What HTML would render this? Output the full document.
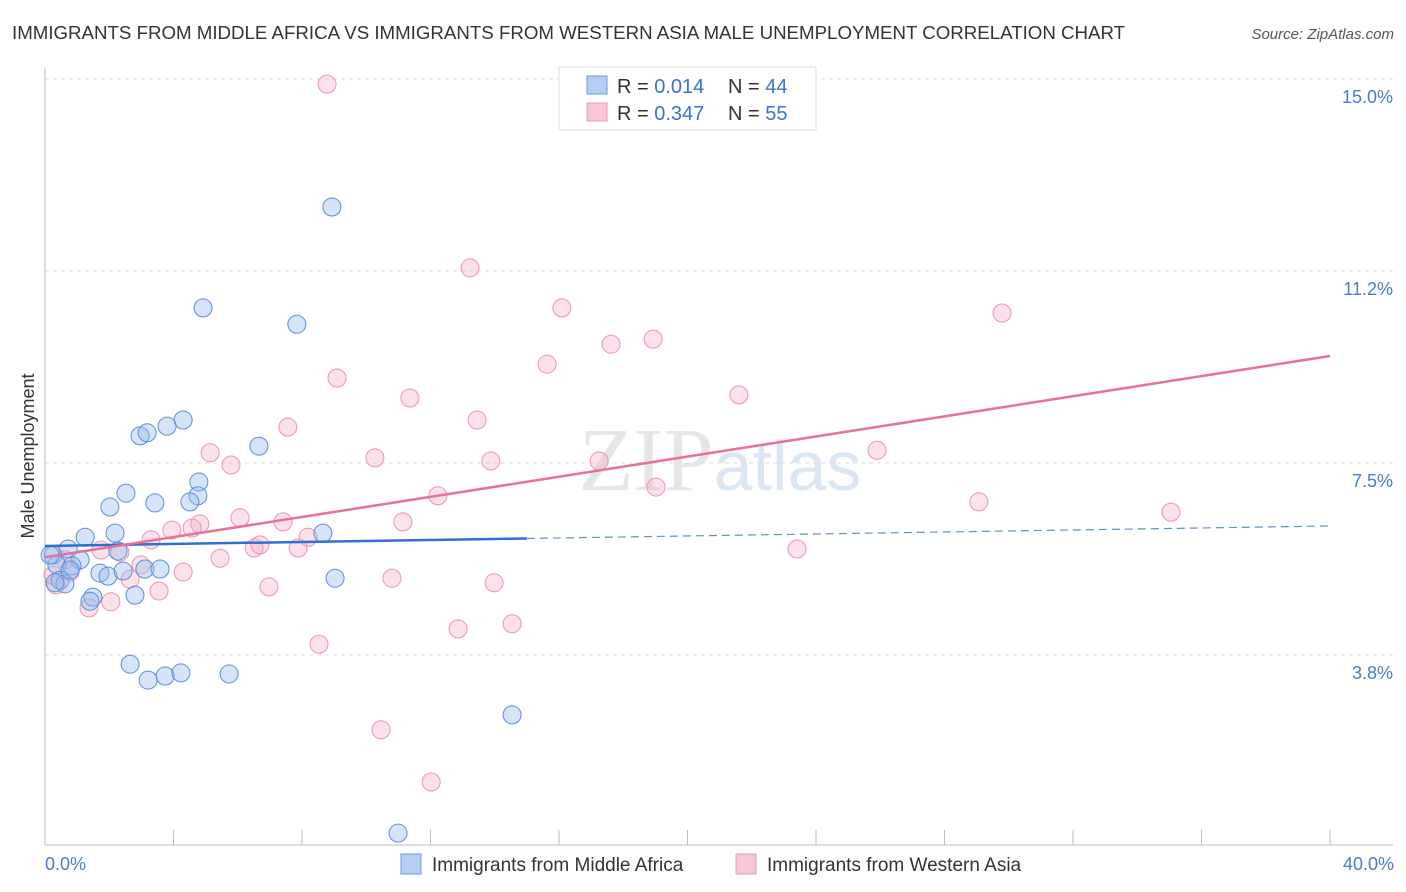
<!DOCTYPE html>
<html><head><meta charset="utf-8"><style>
body{margin:0;background:#fff;font-family:"Liberation Sans",sans-serif;}
svg{display:block}
</style></head><body>
<svg id="chart" width="1406" height="892" xmlns="http://www.w3.org/2000/svg">
<text x="12" y="39" font-size="18.7" fill="#333" font-family="Liberation Sans">IMMIGRANTS FROM MIDDLE AFRICA VS IMMIGRANTS FROM WESTERN ASIA MALE UNEMPLOYMENT CORRELATION CHART</text>
<text x="1394" y="39" font-size="15" fill="#555" text-anchor="end" font-style="italic">Source: ZipAtlas.com</text>
<text x="720" y="490" font-size="90" fill="#e6e6e6" text-anchor="middle" font-family="Liberation Serif">ZIP<tspan fill="#dbe6f4" font-family="Liberation Sans" font-size="70">atlas</tspan></text>
<g id="grid"></g>
<g id="axes"></g>
<g id="pts"></g>
<g id="lines"></g>
<text transform="translate(34,456) rotate(-90)" font-size="18" fill="#333" text-anchor="middle">Male Unemployment</text>
<text x="45" y="870" font-size="18" fill="#4a7bd0">0.0%</text>
<text x="1394" y="870" font-size="18" fill="#4a7bd0" text-anchor="end">40.0%</text>
<g>
<rect x="559" y="67" width="257" height="63" fill="#fff" stroke="#ddd"/>
<rect x="587" y="76" width="20" height="18" fill="#b4cff3" stroke="#6a9ade"/>
<rect x="587" y="103" width="20" height="18" fill="#f9c6d6" stroke="#ea9ab4"/>
<text x="617" y="93" font-size="20" fill="#333">R = <tspan fill="#3a72d0">0.014</tspan></text>
<text x="728" y="93" font-size="20" fill="#333">N = <tspan fill="#3a72d0">44</tspan></text>
<text x="617" y="120" font-size="20" fill="#333">R = <tspan fill="#3a72d0">0.347</tspan></text>
<text x="728" y="120" font-size="20" fill="#333">N = <tspan fill="#3a72d0">55</tspan></text>
</g>
<g>
<rect x="401" y="854" width="20" height="20" fill="#b4cff3" stroke="#6a9ade"/>
<text x="432" y="871" font-size="19" fill="#333">Immigrants from Middle Africa</text>
<rect x="736" y="854" width="20" height="20" fill="#f9c6d6" stroke="#ea9ab4"/>
<text x="767" y="871" font-size="19" fill="#333">Immigrants from Western Asia</text>
</g>
</svg>
<script>
const yTicks=[3.75,7.5,11.25,15];
const yTickLabels=["3.8%","7.5%","11.2%","15.0%"];
const blueX=[8.93,4.92,7.84,4.30,3.80,2.96,3.18,6.66,4.79,4.76,4.51,2.52,3.42,2.02,1.25,2.18,8.65,0.72,1.09,0.25,2.27,0.37,0.84,0.47,0.62,1.71,1.96,2.43,3.11,3.58,2.80,1.49,1.40,9.03,2.65,3.21,3.74,4.23,5.73,14.54,10.99,0.16,0.31,0.78];
const blueY=[12.50,10.53,10.21,8.34,8.22,8.03,8.09,7.83,7.13,6.86,6.74,6.91,6.72,6.64,6.05,6.13,6.13,5.82,5.61,5.70,5.78,5.51,5.49,5.21,5.14,5.35,5.29,5.39,5.43,5.43,4.92,4.88,4.80,5.25,3.57,3.26,3.34,3.40,3.38,2.58,0.27,5.70,5.16,5.41];
const pinkX=[8.78,13.23,16.09,29.79,18.93,17.62,15.63,9.09,11.36,21.60,7.56,13.45,5.14,10.27,5.79,13.88,17.25,25.90,19.02,12.23,29.07,35.05,6.07,4.82,7.41,11.14,3.95,4.58,3.30,8.19,6.51,6.69,7.88,2.33,1.74,2.99,5.45,4.30,10.80,13.98,23.41,2.65,3.55,6.97,2.05,1.37,0.34,0.25,0.78,0.62,8.53,12.86,14.54,10.46,12.02];
const pinkY=[14.90,11.31,10.53,10.43,9.92,9.82,9.43,9.16,8.77,8.83,8.20,8.34,7.70,7.60,7.46,7.54,7.54,7.75,7.03,6.86,6.74,6.54,6.43,6.31,6.35,6.35,6.19,6.23,6.00,6.05,5.84,5.90,5.84,5.76,5.80,5.51,5.64,5.37,5.25,5.16,5.82,5.23,5.00,5.08,4.79,4.67,5.12,5.31,5.37,5.61,3.96,4.26,4.36,2.29,1.27];
const blueLine=[5.88,6.27];
const pinkLine=[5.66,9.59];
const xs=v=>45+v*32.125, ys=v=>847-v*51.2;
const NS="http://www.w3.org/2000/svg";
function mk(tag,parent,attrs){const e=document.createElementNS(NS,tag);for(const k in attrs)e.setAttribute(k,attrs[k]);parent.appendChild(e);return e;}
const grid=document.getElementById('grid'),axes=document.getElementById('axes'),pts=document.getElementById('pts'),lines=document.getElementById('lines');
yTicks.forEach((t,i)=>{
 const g=mk('line',grid,{x1:45,x2:1393,y1:ys(t),y2:ys(t),stroke:'#ddd','stroke-dasharray':'4,4'});
 
 
 const l=mk('text',grid,{x:1393,y:ys(t)+24,'font-size':18,fill:'#4a7bd0','text-anchor':'end'});
 l.textContent=yTickLabels[i];
 
 
});
let a=mk('line',axes,{x1:45,x2:45,y1:68,y2:845,stroke:'#bbb'});


a=mk('line',axes,{x1:45,x2:1393,y1:845,y2:845,stroke:'#bbb'});


for(let k=1;k<=10;k++){const t=mk('line',axes,{x1:xs(k*4),x2:xs(k*4),y1:830,y2:845,stroke:'#bbb'});
 
 }
pinkX.forEach((x,i)=>{const c=mk('circle',pts,{cx:xs(x),cy:ys(pinkY[i]),r:9,fill:'rgba(245,170,195,0.35)',stroke:'#eb94b1','stroke-width':1});
 
 });
blueX.forEach((x,i)=>{const c=mk('circle',pts,{cx:xs(x),cy:ys(blueY[i]),r:9,fill:'rgba(150,188,238,0.4)',stroke:'#5a8fdc','stroke-width':1});
 
 });
const bAt=x=>blueLine[0]+(blueLine[1]-blueLine[0])*x/40;
let ln=mk('line',lines,{x1:xs(0),y1:ys(bAt(0)),x2:xs(15),y2:ys(bAt(15)),stroke:'#2f6fd0','stroke-width':2.5});


ln=mk('line',lines,{x1:xs(15),y1:ys(bAt(15)),x2:xs(40),y2:ys(bAt(40)),stroke:'#5a8fdc','stroke-width':1.2,'stroke-dasharray':'8,5'});


ln=mk('line',lines,{x1:xs(0),y1:ys(pinkLine[0]),x2:xs(40),y2:ys(pinkLine[1]),stroke:'#e8709a','stroke-width':2.5});


</script>
</body></html>
